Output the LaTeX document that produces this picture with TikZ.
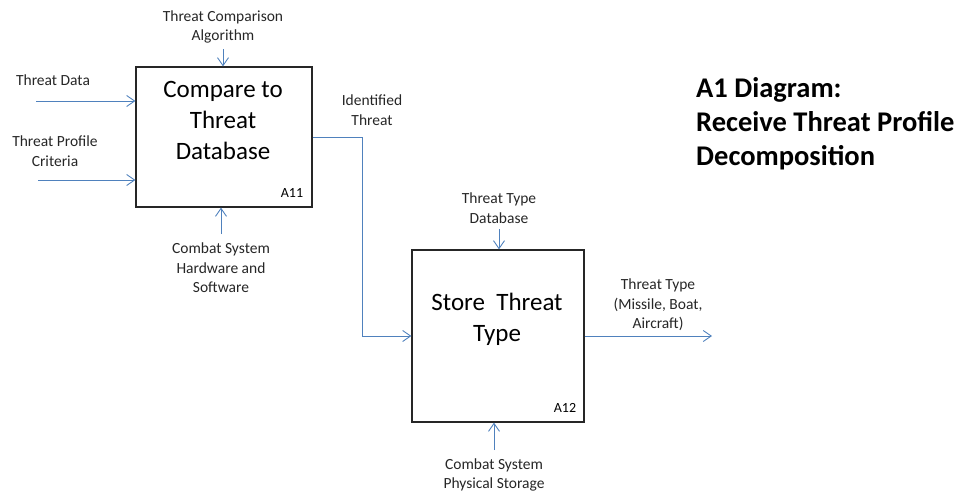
\documentclass[tikz,border=0pt]{standalone}
\usepackage{fontspec}
\setmainfont{Carlito}
\usetikzlibrary{arrows.meta,calc}
\definecolor{lineblue}{HTML}{4F81BD}
\definecolor{txtgray}{HTML}{262626}
\tikzset{
  arr/.style={draw=lineblue, line width=0.9pt, -{Straight Barb[length=8pt,width=11pt,line width=0.9pt]}},
  conn/.style={draw=lineblue, line width=0.9pt},
  actbox/.style={draw=black!85, line width=1.2pt, rectangle, inner sep=0pt},
  boxtext/.style={align=center, font=\fontsize{25}{31}\selectfont, text=black, inner sep=0pt},
  lbl/.style={align=center, font=\fontsize{15.5}{19.5}\selectfont, text=txtgray, inner sep=0pt},
  idlbl/.style={font=\fontsize{14}{17}\selectfont, text=black, inner sep=0pt},
  title/.style={align=left, font=\fontsize{28.5}{34}\selectfont\bfseries, text=black, inner sep=0pt}
}
\begin{document}
\begin{tikzpicture}[x=1pt,y=-1pt]
\useasboundingbox (0,0) rectangle (966,496);
% boxes
\node[actbox, minimum width=176pt, minimum height=140pt] (A11) at (224,137) {};
\node[actbox, minimum width=172pt, minimum height=172pt] (A12) at (498,336) {};
\node[boxtext] (t11) at (223,120) {Compare to\\Threat\\Database};
\node[boxtext] (t12) at (497,319) {Store\ \ Threat\\Type};
\node[idlbl] (id11) at (292,193) {A11};
\node[idlbl] (id12) at (565,408) {A12};
% A11 inputs
\node[lbl] (ltd) at (53,80) {Threat Data};
\coordinate (td) at (36,101);
\draw[arr] (td) -- (td -| A11.west);
\node[lbl] (ltp) at (55,151) {Threat Profile\\Criteria};
\coordinate (tp) at (38,180);
\draw[arr] (tp) -- (tp -| A11.west);
% A11 control
\node[lbl] (ltc) at (223,27) {Threat Comparison\\Algorithm};
\coordinate (tc) at (223,49);
\draw[arr] (tc) -- (tc |- A11.north);
% A11 mechanism
\node[lbl] (lcs1) at (221,268) {Combat System\\Hardware and\\Software};
\coordinate (cs1) at (221,234);
\draw[arr] (cs1) -- (cs1 |- A11.south);
% A11 -> A12
\node[lbl] (lit) at (372,110) {Identified\\Threat};
\coordinate (bend) at (362,137);
\draw[conn] (A11.east) -- (bend);
\draw[arr] (bend) |- (A12.west);
% A12 control
\node[lbl] (ltt) at (499,208) {Threat Type\\Database};
\coordinate (tt) at (499,229);
\draw[arr] (tt) -- (tt |- A12.north);
% A12 output
\node[lbl] (lout) at (658,305) {Threat Type\\(Missile, Boat,\\Aircraft)};
\coordinate (out) at (712,336);
\draw[arr] (A12.east) -- (out);
% A12 mechanism
\node[lbl] (lcs2) at (494,475) {Combat System\\Physical Storage};
\coordinate (cs2) at (494,450);
\draw[arr] (cs2) -- (cs2 |- A12.south);
% title
\node[title, anchor=west] (ttl) at (696,124) {A1 Diagram:\\Receive Threat Profile\\Decomposition};
\end{tikzpicture}
\end{document}
